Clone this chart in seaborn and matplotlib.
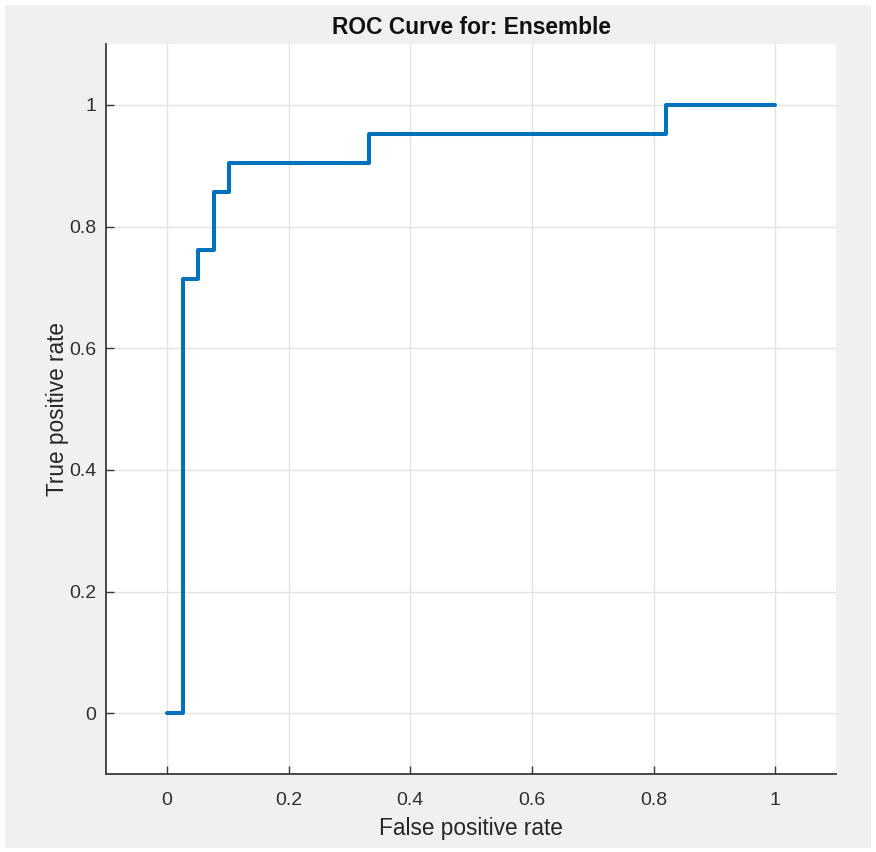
import matplotlib
matplotlib.use('Agg')
import pandas as pd
import matplotlib.pyplot as plt
import seaborn as sns
from matplotlib.patches import Rectangle
from matplotlib.ticker import FuncFormatter

sns.set_style("whitegrid")
plt.rcParams['font.family'] = ['Liberation Sans', 'DejaVu Sans']

# ROC curve (step points, steps-post)
fpr = [0.0, 0.026, 0.051, 0.077, 0.103, 0.333, 0.821, 1.0]
tpr = [0.0, 0.714, 0.762, 0.857, 0.905, 0.952, 1.0, 1.0]
ticks = [0, 0.2, 0.4, 0.6, 0.8, 1]

df = pd.DataFrame({"fpr": fpr, "tpr": tpr})

fig = plt.figure(figsize=(8.76, 8.52), dpi=100, facecolor='white')
# grey figure panel inside a thin white border
fig.patches.append(Rectangle((5 / 876, 4 / 852), 866 / 876, 843 / 852,
                             transform=fig.transFigure, facecolor='#f0f0f0',
                             edgecolor='none', zorder=-10))
ax = fig.add_axes([106 / 876, 78 / 852, 730 / 876, 730 / 852])
ax.set_facecolor('white')

sns.lineplot(data=df, x="fpr", y="tpr", ax=ax, color='#0072BD',
             linewidth=2.9, drawstyle='steps-post', sort=False)

ax.set_xlim(-0.1, 1.1)
ax.set_ylim(-0.1, 1.1)
ax.set_xticks(ticks)
ax.set_yticks(ticks)
fmt = FuncFormatter(lambda v, p: f"{v:g}")
ax.xaxis.set_major_formatter(fmt)
ax.yaxis.set_major_formatter(fmt)

ax.grid(True, color='#e3e3e3', linewidth=1.0)
for side in ['top', 'right']:
    ax.spines[side].set_visible(False)
for side in ['left', 'bottom']:
    ax.spines[side].set_color('#3a3a3a')
    ax.spines[side].set_linewidth(1.3)

ax.tick_params(axis='both', direction='in', length=5.5, width=1.0,
               color='#3a3a3a', labelsize=14, labelcolor='#303030',
               bottom=True, left=True, top=False, right=False)
ax.tick_params(axis='x', pad=13)
ax.tick_params(axis='y', pad=7)

ax.set_xlabel("False positive rate", fontsize=16.3, color='#262626', labelpad=6)
ax.set_ylabel("True positive rate", fontsize=16.3, color='#262626', labelpad=0)
ax.set_title("ROC Curve for: Ensemble", fontsize=16.4, fontweight='bold',
             color='#111111', pad=7)

fig.savefig("out.png", dpi=100, facecolor=fig.get_facecolor())
